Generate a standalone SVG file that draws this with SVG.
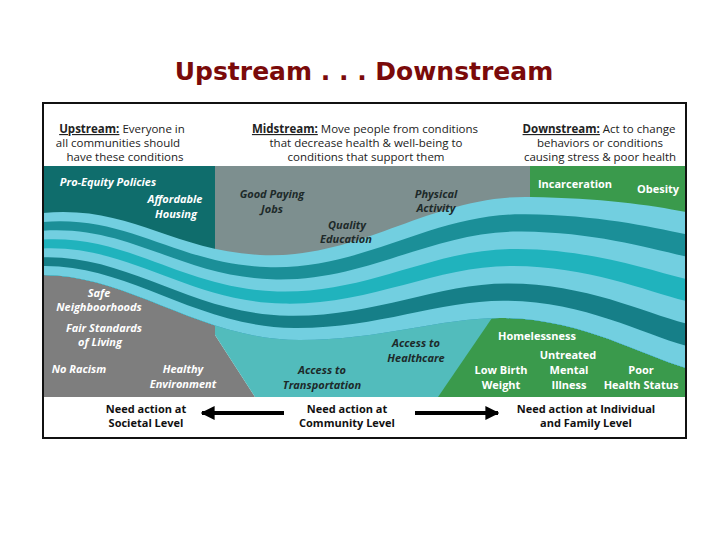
<svg xmlns="http://www.w3.org/2000/svg" width="728" height="546" viewBox="0 0 728 546">
<style>
.hd{font-family:"Open Sans","Liberation Sans",sans-serif;font-size:11.5px;fill:#222;text-anchor:middle}
.hu{font-weight:bold;text-decoration:underline}
.w{font-family:"Open Sans","Liberation Sans",sans-serif;font-size:11px;font-weight:bold;font-style:italic;fill:#fff;text-anchor:middle}
.k{font-family:"Open Sans","Liberation Sans",sans-serif;font-size:11px;font-weight:bold;font-style:italic;fill:#1d2a2a;text-anchor:middle}
.g{font-family:"Open Sans","Liberation Sans",sans-serif;font-size:11px;font-weight:bold;fill:#fff;text-anchor:middle}
.b{font-family:"Open Sans","Liberation Sans",sans-serif;font-size:11px;font-weight:bold;fill:#111;text-anchor:middle}
</style>
<defs>
<marker id="ah" viewBox="0 0 10 10" refX="9" refY="5" markerWidth="3.5" markerHeight="3.5" orient="auto"><path d="M0,0L10,5L0,10Z" fill="#000"/></marker>
</defs>
<rect width="728" height="546" fill="#fff"/>
<text x="364" y="80" font-family="DejaVu Sans,sans-serif" font-size="25" font-weight="bold" fill="#7a0a0a" text-anchor="middle">Upstream . . . Downstream</text>
<g id="scene">
<rect x="43" y="166" width="174" height="110" fill="#0f6d6c"/>
<polygon points="43,260 215,260 215,335 255,397 43,397" fill="#7e7e7e"/>
<rect x="215" y="166" width="317" height="110" fill="#7d8f8f"/>
<polygon points="215,290 560,290 560,397 255,397 215,335" fill="#52bcbc"/>
<rect x="530" y="166" width="156" height="60" fill="#3a9a4c"/>
<polygon points="438,397 492,318 600,318 686,360 686,397" fill="#3a9a4c"/>
<g id="river">
<path d="M43,213 C130,205 170,250 260,255 C360,260 430,195 530,197 C600,198 650,205 686,212 L686,368 C640,355 580,318 500,318 C440,318 380,340 300,340 C200,340 130,275 43,275 Z" fill="#72cfe0"/>
<path d="M43,221.9 C130,215 174.3,262.9 265.7,267.1 C362.9,271.4 431.4,212.6 525.7,214.3 C597.1,215.1 648.6,226.4 686,234.3 L686,368 C640,355 580,318 500,318 C440,318 380,340 300,340 C200,340 130,275 43,275 Z" fill="#1b8f98"/>
<path d="M43,230.7 C130,225 178.6,275.7 271.4,279.3 C365.7,282.9 432.9,230.1 521.4,231.6 C594.3,232.3 647.1,247.9 686,256.6 L686,368 C640,355 580,318 500,318 C440,318 380,340 300,340 C200,340 130,275 43,275 Z" fill="#72cfe0"/>
<path d="M43,239.6 C130,235 182.9,288.6 277.1,291.4 C368.6,294.3 434.3,247.7 517.1,248.9 C591.4,249.4 645.7,269.3 686,278.9 L686,368 C640,355 580,318 500,318 C440,318 380,340 300,340 C200,340 130,275 43,275 Z" fill="#20b3bd"/>
<path d="M43,248.4 C130,245 187.1,301.4 282.9,303.6 C371.4,305.7 435.7,265.3 512.9,266.1 C588.6,266.5 644.3,290.7 686,301.1 L686,368 C640,355 580,318 500,318 C440,318 380,340 300,340 C200,340 130,275 43,275 Z" fill="#72cfe0"/>
<path d="M43,257.3 C130,255 191.4,314.3 288.6,315.7 C374.3,317.1 437.1,282.9 508.6,283.4 C585.7,283.7 642.9,312.1 686,323.4 L686,368 C640,355 580,318 500,318 C440,318 380,340 300,340 C200,340 130,275 43,275 Z" fill="#167f88"/>
<path d="M43,266.1 C130,265 195.7,327.1 294.3,327.9 C377.1,328.6 438.6,300.4 504.3,300.7 C582.9,300.9 641.4,333.6 686,345.7 L686,368 C640,355 580,318 500,318 C440,318 380,340 300,340 C200,340 130,275 43,275 Z" fill="#72cfe0"/>
</g>
</g>
<rect x="43" y="103" width="643" height="335" fill="none" stroke="#111" stroke-width="2"/>
<g id="headers">
<text class="hd" x="122" y="133"><tspan class="hu">Upstream:</tspan> Everyone in</text>
<text class="hd" x="118" y="147">all communities should</text>
<text class="hd" x="125" y="161">have these conditions</text>
<text class="hd" x="365" y="133"><tspan class="hu">Midstream:</tspan> Move people from conditions</text>
<text class="hd" x="366" y="147">that decrease health &amp; well-being to</text>
<text class="hd" x="366" y="161">conditions that support them</text>
<text class="hd" x="599" y="133"><tspan class="hu">Downstream:</tspan> Act to change</text>
<text class="hd" x="600" y="147">behaviors or conditions</text>
<text class="hd" x="600" y="161">causing stress &amp; poor health</text>
</g>
<g id="labels">
<text class="w" x="108" y="186">Pro-Equity Policies</text>
<text class="w" x="175" y="203">Affordable</text>
<text class="w" x="176" y="218">Housing</text>
<text class="w" x="99" y="297">Safe</text>
<text class="w" x="99" y="311">Neighboorhoods</text>
<text class="w" x="104" y="332">Fair Standards</text>
<text class="w" x="100" y="346">of Living</text>
<text class="w" x="79" y="373">No Racism</text>
<text class="w" x="183" y="373">Healthy</text>
<text class="w" x="183" y="388">Environment</text>
<text class="k" x="272" y="198">Good Paying</text>
<text class="k" x="272" y="213">Jobs</text>
<text class="k" x="347" y="229">Quality</text>
<text class="k" x="346" y="243">Education</text>
<text class="k" x="436" y="198">Physical</text>
<text class="k" x="436" y="212">Activity</text>
<text class="k" x="416" y="347">Access to</text>
<text class="k" x="416" y="362">Healthcare</text>
<text class="k" x="322" y="374">Access to</text>
<text class="k" x="322" y="389">Transportation</text>
<text class="g" x="575" y="188">Incarceration</text>
<text class="g" x="658" y="193">Obesity</text>
<text class="g" x="537" y="340">Homelessness</text>
<text class="g" x="568" y="359">Untreated</text>
<text class="g" x="501" y="374">Low Birth</text>
<text class="g" x="501" y="389">Weight</text>
<text class="g" x="569" y="374">Mental</text>
<text class="g" x="569" y="389">Illness</text>
<text class="g" x="641" y="374">Poor</text>
<text class="g" x="641" y="389">Health Status</text>
<text class="b" x="146" y="413">Need action at</text>
<text class="b" x="146" y="427">Societal Level</text>
<text class="b" x="347" y="413">Need action at</text>
<text class="b" x="347" y="427">Community Level</text>
<text class="b" x="586" y="413">Need action at Individual</text>
<text class="b" x="586" y="427">and Family Level</text>
</g>
<g id="connectors" stroke="#000" stroke-width="4" fill="none">
<line x1="284" y1="413" x2="202" y2="413" marker-end="url(#ah)"/>
<line x1="415" y1="413" x2="498" y2="413" marker-end="url(#ah)"/>
</g>
</svg>
